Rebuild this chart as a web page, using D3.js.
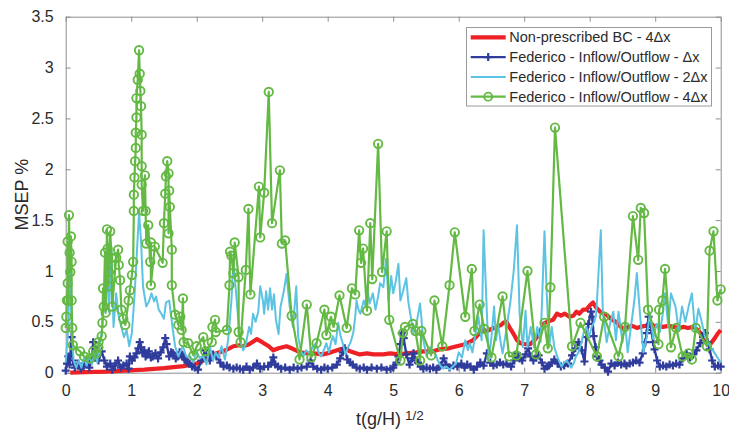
<!DOCTYPE html>
<html>
<head>
<meta charset="utf-8">
<script src="https://cdn.jsdelivr.net/npm/d3@7"></script>
<style>
  body { margin: 0; background: #fff; }
  text { font-family: "Liberation Sans", Arial, sans-serif; fill: #2b2b2b; }
</style>
</head>
<body>
<svg id="chart" width="729" height="434"></svg>
<script>
// ticks
var xTicks = [0, 1, 2, 3, 4, 5, 6, 7, 8, 9, 10];
var yTicks = [0, 0.5, 1, 1.5, 2, 2.5, 3, 3.5];

var seriesNames = ["Non-prescribed BC - 4\u0394x",
                   "Federico - Inflow/Outflow - \u0394x",
                   "Federico - Inflow/Outflow - 2\u0394x",
                   "Federico - Inflow/Outflow - 4\u0394x"];

// [t(g/H)^1/2, MSEP %]
var nonPrescribed = [[0.07,0.0],[0.3,0.005],[0.6,0.01],[0.9,0.02],[1.2,0.03],[1.5,0.045],[1.8,0.065],[2.0,0.09],[2.1,0.12],
  [2.2,0.15],[2.3,0.19],[2.4,0.21],[2.5,0.24],[2.56,0.26],[2.65,0.27],[2.71,0.26],[2.8,0.28],[2.92,0.33],[3.0,0.3],[3.1,0.26],
  [3.17,0.22],[3.25,0.24],[3.37,0.26],[3.45,0.24],[3.58,0.2],[3.7,0.19],[3.78,0.19],[3.93,0.18],[4.05,0.2],[4.19,0.23],[4.26,0.24],
  [4.34,0.21],[4.49,0.18],[4.6,0.19],[4.7,0.18],[4.85,0.18],[4.95,0.19],[5.1,0.18],[5.2,0.19],[5.35,0.2],[5.46,0.21],[5.61,0.21],
  [5.71,0.23],[5.85,0.24],[5.97,0.26],[6.1,0.28],[6.22,0.32],[6.32,0.39],[6.38,0.42],[6.43,0.41],[6.5,0.43],[6.58,0.45],[6.65,0.47],
  [6.68,0.49],[6.73,0.5],[6.78,0.44],[6.83,0.39],[6.89,0.32],[6.94,0.29],[7.02,0.28],[7.09,0.28],[7.17,0.33],[7.24,0.39],[7.29,0.48],
  [7.35,0.5],[7.44,0.52],[7.5,0.58],[7.56,0.56],[7.62,0.58],[7.69,0.55],[7.75,0.56],[7.8,0.6],[7.84,0.58],[7.9,0.62],[7.95,0.62],
  [8.0,0.66],[8.05,0.69],[8.1,0.64],[8.16,0.6],[8.21,0.58],[8.26,0.57],[8.32,0.53],[8.4,0.5],[8.46,0.46],[8.51,0.43],[8.58,0.45],
  [8.65,0.46],[8.72,0.44],[8.77,0.45],[8.85,0.46],[8.92,0.47],[8.97,0.46],[9.05,0.46],[9.12,0.45],[9.2,0.46],[9.28,0.45],[9.36,0.44],
  [9.44,0.45],[9.5,0.44],[9.58,0.45],[9.63,0.43],[9.69,0.39],[9.74,0.33],[9.8,0.29],[9.84,0.28],[9.9,0.33],[9.95,0.38],[10.0,0.42]];

var federicoDx = [[0.0,0.02],[0.02,0.09],[0.04,0.16],[0.06,0.08],[0.09,0.35],[0.11,0.12],[0.14,0.05],[0.19,0.09],[0.23,0.04],
  [0.27,0.06],[0.32,0.11],[0.36,0.05],[0.4,0.12],[0.42,0.30],[0.44,0.25],[0.47,0.15],[0.5,0.12],[0.55,0.21],[0.59,0.12],[0.63,0.06],
  [0.68,0.09],[0.71,0.03],[0.75,0.07],[0.8,0.12],[0.84,0.05],[0.88,0.07],[0.93,0.09],[0.96,0.04],[0.98,0.16],[1.01,0.12],[1.05,0.15],
  [1.08,0.19],[1.11,0.24],[1.13,0.30],[1.15,0.25],[1.17,0.2],[1.2,0.22],[1.22,0.16],[1.24,0.18],[1.27,0.21],[1.3,0.15],[1.33,0.16],
  [1.37,0.19],[1.41,0.14],[1.45,0.2],[1.49,0.25],[1.52,0.34],[1.54,0.28],[1.58,0.16],[1.61,0.2],[1.64,0.19],[1.68,0.14],[1.71,0.16],
  [1.74,0.2],[1.77,0.18],[1.8,0.15],[1.82,0.13],[1.86,0.1],[1.89,0.09],[1.93,0.06],[1.97,0.05],[2.02,0.03],[2.07,0.12],[2.13,0.22],
  [2.17,0.15],[2.2,0.12],[2.25,0.18],[2.3,0.16],[2.36,0.1],[2.41,0.06],[2.46,0.07],[2.5,0.05],[2.56,0.04],[2.61,0.05],[2.66,0.04],
  [2.71,0.03],[2.76,0.06],[2.81,0.03],[2.86,0.05],[2.92,0.09],[2.97,0.04],[3.03,0.06],[3.09,0.06],[3.14,0.1],[3.17,0.15],[3.2,0.08],
  [3.24,0.06],[3.29,0.04],[3.35,0.05],[3.42,0.03],[3.48,0.05],[3.54,0.04],[3.6,0.05],[3.68,0.06],[3.74,0.12],[3.78,0.06],[3.84,0.04],
  [3.9,0.03],[3.95,0.05],[4.0,0.04],[4.07,0.05],[4.14,0.08],[4.19,0.14],[4.23,0.2],[4.26,0.24],[4.3,0.13],[4.34,0.1],[4.38,0.08],
  [4.44,0.05],[4.49,0.04],[4.55,0.05],[4.6,0.03],[4.67,0.05],[4.75,0.04],[4.82,0.05],[4.9,0.03],[4.96,0.04],[5.0,0.05],[5.05,0.1],
  [5.08,0.16],[5.11,0.28],[5.13,0.39],[5.16,0.34],[5.2,0.18],[5.25,0.08],[5.29,0.14],[5.31,0.19],[5.35,0.12],[5.38,0.1],[5.42,0.06],
  [5.46,0.04],[5.51,0.05],[5.56,0.04],[5.61,0.05],[5.66,0.03],[5.72,0.07],[5.77,0.14],[5.81,0.08],[5.86,0.05],[5.92,0.07],[5.98,0.06],
  [6.04,0.09],[6.09,0.05],[6.13,0.08],[6.18,0.06],[6.23,0.03],[6.28,0.06],[6.33,0.1],[6.38,0.07],[6.43,0.19],[6.48,0.1],[6.53,0.07],
  [6.58,0.08],[6.63,0.1],[6.68,0.08],[6.73,0.09],[6.8,0.06],[6.85,0.12],[6.89,0.19],[6.93,0.14],[6.97,0.12],[7.02,0.18],[7.06,0.24],
  [7.1,0.16],[7.14,0.12],[7.18,0.15],[7.22,0.17],[7.27,0.1],[7.31,0.04],[7.35,0.06],[7.38,0.07],[7.42,0.1],[7.46,0.13],[7.51,0.09],
  [7.56,0.06],[7.61,0.07],[7.67,0.09],[7.73,0.17],[7.78,0.24],[7.83,0.3],[7.88,0.22],[7.92,0.11],[7.95,0.35],[7.98,0.48],[8.02,0.6],
  [8.04,0.55],[8.06,0.36],[8.09,0.25],[8.11,0.16],[8.15,0.12],[8.18,0.08],[8.23,0.05],[8.28,0.01],[8.33,0.09],[8.38,0.07],[8.43,0.1],
  [8.48,0.08],[8.53,0.09],[8.56,0.07],[8.61,0.09],[8.66,0.1],[8.71,0.12],[8.76,0.1],[8.81,0.19],[8.85,0.3],[8.87,0.39],[8.9,0.55],
  [8.92,0.48],[8.94,0.42],[8.97,0.3],[8.99,0.23],[9.03,0.12],[9.07,0.06],[9.12,0.07],[9.17,0.06],[9.22,0.08],[9.27,0.07],[9.32,0.09],
  [9.37,0.08],[9.42,0.14],[9.48,0.19],[9.53,0.15],[9.58,0.18],[9.63,0.22],[9.69,0.29],[9.73,0.35],[9.76,0.39],[9.8,0.3],[9.83,0.23],
  [9.87,0.12],[9.91,0.06],[9.96,0.07],[10.0,0.06]];

var federico2Dx = [[0.0,0.1],[0.03,0.35],[0.05,0.7],[0.07,1.0],[0.09,0.45],[0.12,0.12],[0.16,0.05],[0.2,0.12],[0.24,0.05],
  [0.28,0.15],[0.32,0.07],[0.36,0.18],[0.4,0.08],[0.44,0.2],[0.48,0.1],[0.52,0.28],[0.56,0.45],[0.6,0.85],[0.63,1.1],[0.66,0.6],
  [0.7,1.2],[0.73,0.45],[0.77,0.78],[0.81,0.55],[0.85,0.45],[0.89,0.35],[0.93,0.42],[0.97,0.26],[1.01,0.39],[1.05,0.75],[1.08,1.1],
  [1.12,1.58],[1.15,1.3],[1.18,0.85],[1.23,0.65],[1.27,0.7],[1.31,0.78],[1.35,0.7],[1.38,0.75],[1.42,0.62],[1.46,0.58],[1.5,0.53],
  [1.53,0.69],[1.58,0.71],[1.63,0.45],[1.67,0.26],[1.72,0.16],[1.76,0.22],[1.79,0.26],[1.84,0.16],[1.9,0.16],[1.95,0.1],[2.0,0.21],
  [2.05,0.14],[2.1,0.16],[2.15,0.08],[2.2,0.26],[2.25,0.12],[2.29,0.2],[2.33,0.15],[2.38,0.26],[2.43,0.13],[2.48,0.32],[2.53,0.71],
  [2.56,1.11],[2.61,0.71],[2.66,0.32],[2.71,0.22],[2.75,0.28],[2.8,0.45],[2.83,0.38],[2.86,0.58],[2.9,0.5],[2.94,0.6],[2.97,0.85],
  [3.01,0.71],[3.03,0.58],[3.06,0.8],[3.09,0.62],[3.12,0.83],[3.15,0.62],[3.18,0.77],[3.21,0.52],[3.25,0.38],[3.28,0.65],[3.33,0.8],
  [3.37,0.97],[3.42,0.65],[3.47,0.45],[3.52,0.85],[3.55,0.35],[3.59,0.22],[3.63,0.16],[3.67,0.22],[3.72,0.19],[3.77,0.25],[3.82,0.29],
  [3.86,0.2],[3.9,0.16],[3.94,0.22],[3.98,0.29],[4.02,0.2],[4.05,0.3],[4.08,0.36],[4.12,0.28],[4.16,0.49],[4.2,0.35],[4.23,0.29],
  [4.27,0.18],[4.31,0.25],[4.35,0.3],[4.39,0.39],[4.42,0.55],[4.44,0.71],[4.47,0.62],[4.5,0.58],[4.55,0.71],[4.58,0.65],[4.6,0.85],
  [4.64,0.68],[4.69,0.78],[4.73,0.62],[4.77,0.75],[4.8,0.88],[4.85,0.84],[4.89,1.12],[4.93,0.7],[4.97,0.95],[5.0,0.78],[5.04,0.9],
  [5.08,1.07],[5.11,0.71],[5.15,0.8],[5.2,0.93],[5.23,0.7],[5.26,0.58],[5.31,0.39],[5.36,0.5],[5.41,0.68],[5.46,0.32],[5.51,0.16],
  [5.56,0.25],[5.61,0.21],[5.65,0.18],[5.68,0.12],[5.72,0.07],[5.76,0.04],[5.81,0.06],[5.86,0.03],[5.91,0.06],[5.96,0.09],[6.0,0.2],
  [6.05,0.15],[6.1,0.32],[6.14,0.22],[6.17,0.29],[6.21,0.2],[6.26,0.4],[6.3,0.55],[6.35,0.32],[6.38,1.4],[6.43,0.59],[6.46,0.12],
  [6.5,0.35],[6.54,0.65],[6.57,0.32],[6.6,0.48],[6.64,0.3],[6.67,0.19],[6.71,0.35],[6.74,0.48],[6.79,0.7],[6.84,1.0],[6.89,1.45],
  [6.93,0.58],[6.98,0.25],[7.02,0.61],[7.05,0.25],[7.1,0.45],[7.15,0.25],[7.2,0.45],[7.25,0.3],[7.31,1.39],[7.34,0.84],[7.38,0.25],
  [7.42,0.45],[7.46,0.25],[7.51,0.15],[7.57,0.06],[7.61,0.1],[7.65,0.12],[7.69,0.08],[7.72,0.05],[7.76,0.1],[7.79,0.16],[7.83,0.2],
  [7.87,0.29],[7.91,0.4],[7.95,0.45],[7.99,0.35],[8.03,0.45],[8.07,0.5],[8.1,0.58],[8.17,1.4],[8.2,0.6],[8.26,0.3],[8.31,0.48],
  [8.36,0.6],[8.4,0.32],[8.44,0.6],[8.5,0.3],[8.54,0.5],[8.58,0.2],[8.63,0.45],[8.68,0.7],[8.72,0.98],[8.77,0.56],[8.82,0.2],
  [8.87,0.35],[8.92,0.59],[8.97,0.33],[9.02,0.48],[9.07,0.4],[9.11,0.55],[9.15,0.78],[9.2,0.45],[9.24,0.78],[9.31,0.65],[9.36,0.41],
  [9.41,0.65],[9.46,0.5],[9.51,0.65],[9.56,0.78],[9.61,0.4],[9.66,0.63],[9.71,0.5],[9.76,0.35],[9.84,0.26],[9.91,0.19],[10.0,0.1]];

var federico4Dx = [[0.00,0.44],[0.01,0.55],[0.02,0.71],[0.03,0.88],[0.03,1.29],[0.04,0.71],[0.05,1.55],[0.06,1.18],[0.07,0.99],
  [0.08,1.34],[0.09,1.09],[0.09,0.71],[0.10,0.44],[0.11,0.27],[0.22,0.21],[0.28,0.16],[0.37,0.14],[0.42,0.21],[0.47,0.19],[0.50,0.25],
  [0.50,0.30],[0.55,0.36],[0.56,0.49],[0.57,0.83],[0.58,0.65],[0.60,1.18],[0.61,0.59],[0.63,1.41],[0.64,1.22],[0.65,0.85],[0.66,0.99],
  [0.68,1.39],[0.70,1.13],[0.71,0.65],[0.77,1.13],[0.80,1.21],[0.81,1.06],[0.83,0.91],[0.85,0.62],[0.88,0.53],[0.91,0.47],[0.96,0.71],
  [0.98,0.81],[1.01,0.96],[1.03,1.09],[1.04,1.59],[1.04,1.75],[1.05,1.92],[1.06,2.08],[1.07,2.21],[1.07,2.36],[1.08,2.51],[1.08,2.70],
  [1.10,2.88],[1.12,3.17],[1.13,2.94],[1.14,2.77],[1.15,2.62],[1.16,2.34],[1.16,2.03],[1.16,1.85],[1.18,1.59],[1.21,1.94],[1.22,1.59],
  [1.23,1.27],[1.26,1.45],[1.29,1.09],[1.30,1.28],[1.30,0.86],[1.36,1.24],[1.48,1.08],[1.50,1.47],[1.52,1.76],[1.53,1.93],[1.55,2.08],
  [1.57,1.96],[1.57,1.37],[1.58,1.79],[1.59,1.63],[1.62,1.21],[1.62,0.86],[1.67,0.57],[1.72,0.47],[1.75,0.55],[1.77,0.42],[1.79,0.73],
  [1.80,0.30],[1.87,0.29],[1.95,0.17],[2.00,0.26],[2.10,0.35],[2.13,0.21],[2.23,0.30],[2.24,0.45],[2.28,0.52],[2.29,0.40],[2.46,0.42],
  [2.50,0.86],[2.51,1.19],[2.53,1.15],[2.56,0.98],[2.58,1.28],[2.64,0.94],[2.64,0.40],[2.67,0.30],[2.75,1.01],[2.79,1.61],[2.82,0.77],
  [2.95,1.83],[2.97,1.33],[3.03,1.77],[3.10,2.76],[3.15,1.47],[3.27,1.99],[3.30,1.27],[3.35,1.30],[3.45,0.56],[3.57,0.13],[3.68,0.67],
  [3.75,0.15],[3.83,0.29],[3.95,0.62],[3.98,0.37],[4.05,0.55],[4.09,0.45],[4.18,0.76],[4.29,0.44],[4.37,0.83],[4.42,0.77],[4.48,1.40],
  [4.51,1.08],[4.54,1.22],[4.60,0.61],[4.65,1.47],[4.68,0.92],[4.77,2.25],[4.83,0.99],[4.90,1.39],[4.94,0.52],[5.11,0.12],[5.15,0.39],
  [5.18,0.45],[5.30,0.48],[5.34,0.41],[5.41,0.12],[5.43,0.41],[5.58,0.17],[5.63,0.71],[5.75,0.26],[5.86,0.86],[5.94,1.38],[6.10,0.55],
  [6.20,1.02],[6.24,0.41],[6.32,0.67],[6.39,0.43],[6.50,0.15],[6.67,0.75],[6.77,0.16],[6.88,0.17],[7.05,1.00],[7.18,0.18],[7.31,0.49],
  [7.36,0.24],[7.40,0.84],[7.47,2.41],[7.73,0.26],[7.86,0.49],[8.11,0.16],[8.22,0.55],[8.44,0.16],[8.54,0.45],[8.66,1.54],[8.74,1.11],
  [8.78,1.62],[8.83,1.57],[8.89,0.62],[9.05,0.28],[9.06,0.62],[9.11,0.71],[9.15,1.02],[9.24,0.25],[9.32,0.44],[9.42,0.16],[9.51,0.19],
  [9.56,0.13],[9.62,0.44],[9.79,0.26],[9.83,1.20],[9.89,1.39],[9.95,0.71],[10.0,0.82]];

var colors = ["#ee2226", "#2f3c9c", "#5cc3e2", "#63b943"];

var svg = d3.select("#chart");
var plotLeft = 65.7, plotRight = 720.7, plotTop = 16.7, plotBottom = 372.7;

var x = d3.scaleLinear().domain([0, 10]).range([plotLeft, plotRight]);
var y = d3.scaleLinear().domain([0, 3.5]).range([plotBottom, plotTop]);

var axisColor = "#8f8f8f";

function styleAxis(g) {
  g.select(".domain").attr("stroke", axisColor).attr("stroke-width", 1);
  g.selectAll(".tick line").attr("stroke", axisColor);
  g.selectAll(".tick text")
    .attr("font-size", 16)
    .attr("fill", "#2b2b2b")
    .attr("font-family", "Liberation Sans, Arial, sans-serif");
}

// box with inward ticks on all four sides
svg.append("g")
  .attr("transform", "translate(0," + plotBottom + ")")
  .call(d3.axisBottom(x).tickValues(xTicks).tickSize(-5).tickSizeOuter(0).tickPadding(12).tickFormat(d3.format("d")))
  .call(styleAxis);
svg.append("g")
  .attr("transform", "translate(0," + plotTop + ")")
  .call(d3.axisTop(x).tickValues(xTicks).tickSize(-5).tickSizeOuter(0).tickFormat(""))
  .call(styleAxis);
svg.append("g")
  .attr("transform", "translate(" + plotLeft + ",0)")
  .call(d3.axisLeft(y).tickValues(yTicks).tickSize(-5).tickSizeOuter(0).tickPadding(12).tickFormat(function(d) { return String(d); }))
  .call(styleAxis);
svg.append("g")
  .attr("transform", "translate(" + plotRight + ",0)")
  .call(d3.axisRight(y).tickValues(yTicks).tickSize(-5).tickSizeOuter(0).tickFormat(""))
  .call(styleAxis);

var line = d3.line()
  .x(function(d) { return x(d[0]); })
  .y(function(d) { return y(d[1]); });

var plot = svg.append("g");

// red, thick
plot.append("path")
  .datum(nonPrescribed)
  .attr("d", line)
  .attr("fill", "none")
  .attr("stroke", colors[0])
  .attr("stroke-width", 4.2)
  .attr("stroke-linejoin", "round");

// blue with + markers
plot.append("path")
  .datum(federicoDx)
  .attr("d", line)
  .attr("fill", "none")
  .attr("stroke", colors[1])
  .attr("stroke-width", 2.4)
  .attr("stroke-linejoin", "round");

plot.selectAll(".plus")
  .data(federicoDx)
  .enter()
    .append("path")
      .attr("class", "plus")
      .attr("d", "M-4,0H4M0,-4V4")
      .attr("transform", function(d) { return "translate(" + x(d[0]) + "," + y(d[1]) + ")"; })
      .attr("stroke", colors[1])
      .attr("stroke-width", 2.2);

// cyan
plot.append("path")
  .datum(federico2Dx)
  .attr("d", line)
  .attr("fill", "none")
  .attr("stroke", colors[2])
  .attr("stroke-width", 2)
  .attr("stroke-linejoin", "round");

// green with circles
plot.append("path")
  .datum(federico4Dx)
  .attr("d", line)
  .attr("fill", "none")
  .attr("stroke", colors[3])
  .attr("stroke-width", 2.2)
  .attr("stroke-linejoin", "round");

plot.selectAll(".ring")
  .data(federico4Dx)
  .enter()
    .append("circle")
      .attr("class", "ring")
      .attr("cx", function(d) { return x(d[0]); })
      .attr("cy", function(d) { return y(d[1]); })
      .attr("r", 4.2)
      .attr("fill", "none")
      .attr("stroke", colors[3])
      .attr("stroke-width", 1.9);

// axis labels
svg.append("text")
  .attr("x", 356)
  .attr("y", 425)
  .attr("font-size", 18)
  .text("t(g/H)")
  .append("tspan")
    .attr("font-size", 13.5)
    .attr("dx", 4)
    .attr("dy", -5)
    .text("1/2");

svg.append("text")
  .attr("transform", "translate(28," + ((plotTop + plotBottom) / 2) + ") rotate(-90)")
  .attr("text-anchor", "middle")
  .attr("font-size", 18)
  .text("MSEP %");

// legend
var legend = svg.append("g");
legend.append("rect")
  .attr("x", 466.5)
  .attr("y", 27.5)
  .attr("width", 245)
  .attr("height", 78.5)
  .attr("fill", "#fff")
  .attr("stroke", "#9a9a9a");

var rows = legend.selectAll(".row")
  .data(seriesNames)
  .enter()
    .append("g")
      .attr("class", "row")
      .attr("transform", function(d, i) { return "translate(0," + (37.3 + i * 19.8) + ")"; });

rows.append("line")
  .attr("x1", 470.7).attr("x2", 505.7)
  .attr("y1", 0).attr("y2", 0)
  .attr("stroke", function(d, i) { return colors[i]; })
  .attr("stroke-width", function(d, i) { return i === 0 ? 4.2 : (i === 2 ? 2 : 2.3); });

rows.filter(function(d, i) { return i === 1; })
  .append("path")
  .attr("d", "M484.2,0H492.2M488.2,-4V4")
  .attr("stroke", colors[1])
  .attr("stroke-width", 2.2);

rows.filter(function(d, i) { return i === 3; })
  .append("circle")
  .attr("cx", 488.2).attr("cy", 0).attr("r", 4)
  .attr("fill", "none")
  .attr("stroke", colors[3])
  .attr("stroke-width", 1.8);

rows.append("text")
  .attr("x", 509.3)
  .attr("y", 0)
  .attr("dy", "0.35em")
  .attr("font-size", 14.5)
  .text(function(d) { return d; });
</script>
</body>
</html>
